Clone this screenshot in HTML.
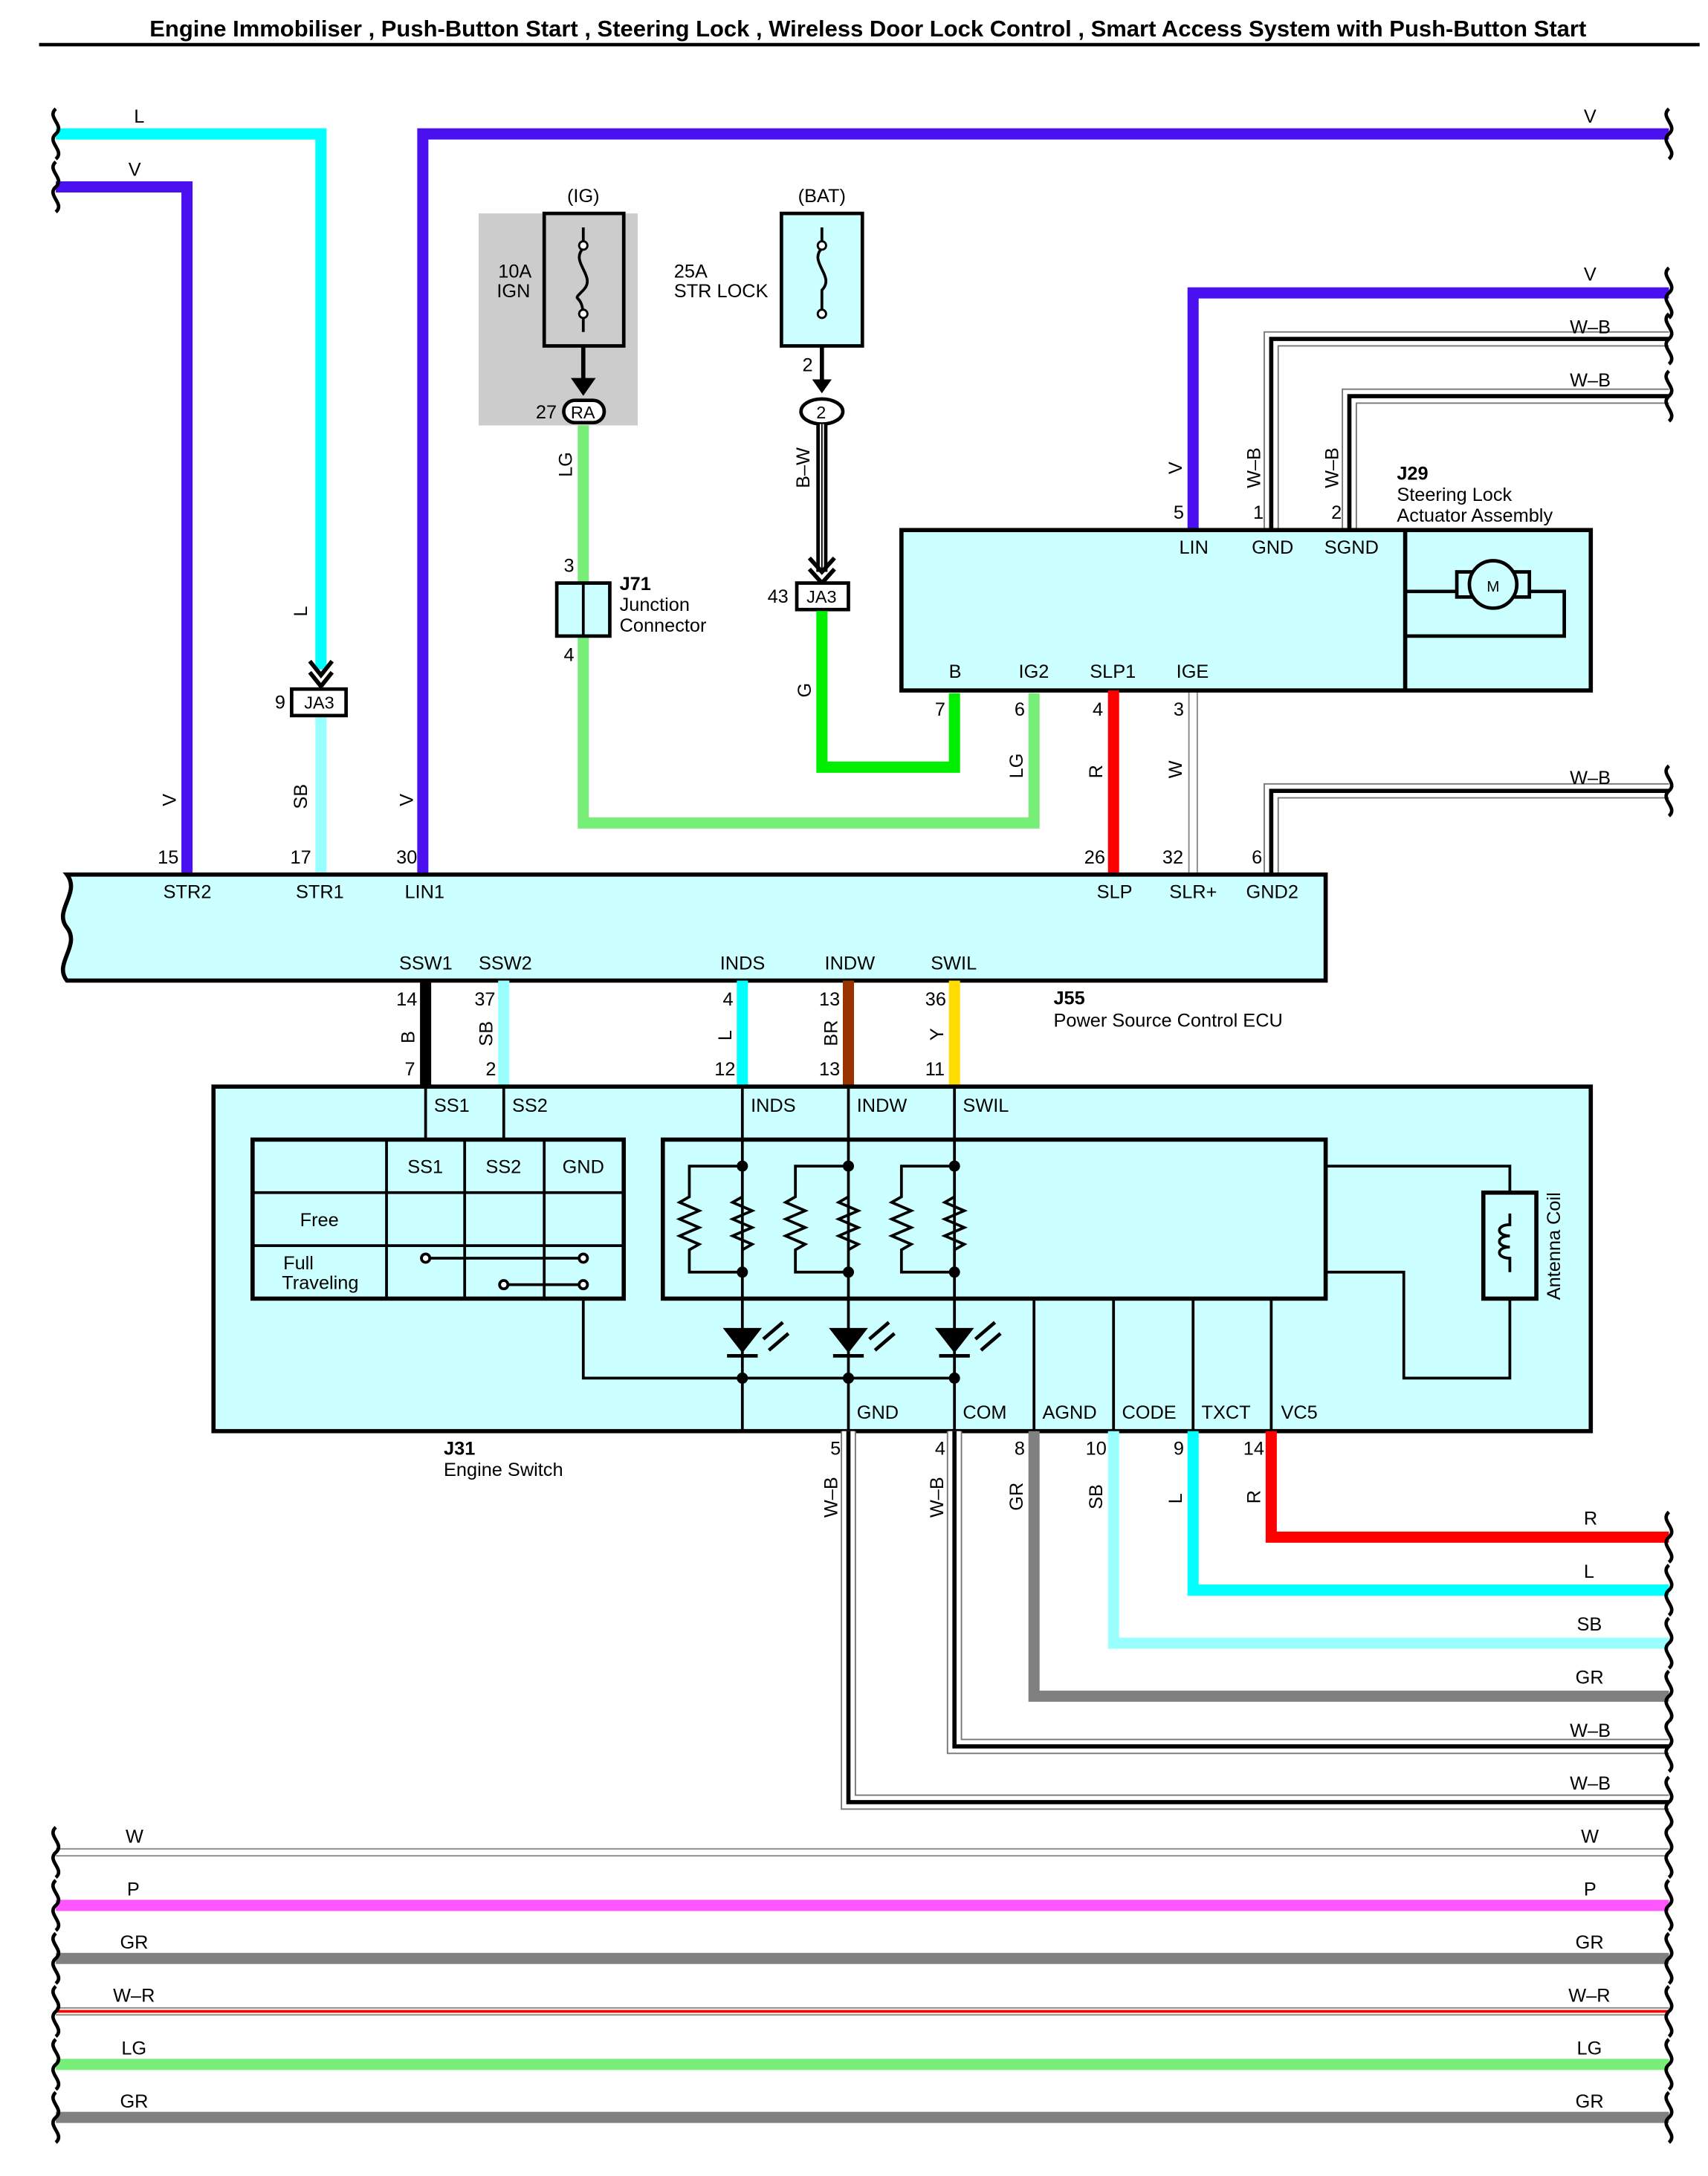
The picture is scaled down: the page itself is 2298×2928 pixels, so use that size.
<!DOCTYPE html>
<html><head><meta charset="utf-8"><style>
html,body{margin:0;padding:0;background:#fff}
svg{display:block}
text{font-family:"Liberation Sans",Arial,sans-serif;font-size:13.5px;fill:#000}
</style></head><body>
<svg width="2298" height="2928" viewBox="0 0 1224 1560" preserveAspectRatio="none" xmlns="http://www.w3.org/2000/svg">
<defs>
<path id="sq" d="M0 -18 c-7 6 7 12 0 18 c-7 6 7 12 0 18" fill="none" stroke="#000" stroke-width="2.5"/>
</defs>
<text x="622" y="26" text-anchor="middle" style="font-weight:bold;font-size:16.5px">Engine Immobiliser , Push-Button Start , Steering Lock , Wireless Door Lock Control , Smart Access System with Push-Button Start</text>
<line x1="28" y1="32" x2="1218" y2="32" stroke="#000" stroke-width="2.5"/>

<!-- gray IG area -->
<rect x="343" y="153" width="114" height="152" fill="#cccccc"/>

<!-- left wires -->
<polyline points="40,96 230,96 230,480" fill="none" stroke="#00ffff" stroke-width="8"/>
<polyline points="40,134 134,134 134,627" fill="none" stroke="#4a10f0" stroke-width="8"/>
<polyline points="303,627 303,96 1196,96" fill="none" stroke="#4a10f0" stroke-width="8"/>
<line x1="230" y1="513" x2="230" y2="627" stroke="#99ffff" stroke-width="8"/>
<text x="96" y="88">L</text><text x="92" y="126">V</text><text x="1135" y="88">V</text>
<text x="220" y="442" transform="rotate(-90 220 442)">L</text>
<text x="126" y="578" transform="rotate(-90 126 578)">V</text>
<text x="220" y="580" transform="rotate(-90 220 580)">SB</text>
<text x="296" y="578" transform="rotate(-90 296 578)">V</text>
<!-- JA3 left -->
<path d="M222 474 l8 10 l8 -10 M222 482 l8 10 l8 -10" fill="none" stroke="#000" stroke-width="3"/>
<rect x="209" y="494" width="39" height="19" fill="#fff" stroke="#000" stroke-width="2.5"/>
<text x="218" y="508" style="font-size:12.5px">JA3</text><text x="197" y="508">9</text>

<!-- IG fuse -->
<rect x="390" y="153" width="57" height="95" fill="#cccccc" stroke="#000" stroke-width="2.5"/>
<path d="M418 163 v15 c-10 10 10 20 0 30 c-10 10 0 0 0 20 v10" fill="none" stroke="#000" stroke-width="2"/>
<circle cx="418" cy="176" r="3" fill="#fff" stroke="#000" stroke-width="1.5"/><circle cx="418" cy="225" r="3" fill="#fff" stroke="#000" stroke-width="1.5"/>
<text x="418" y="145" text-anchor="middle">(IG)</text>
<text x="357" y="199">10A</text><text x="356" y="213">IGN</text>
<line x1="418" y1="248" x2="418" y2="278" stroke="#000" stroke-width="3"/>
<path d="M411 272 l7 10 l7 -10 z" fill="#000" stroke="#000" stroke-width="2"/>
<rect x="404" y="287" width="29" height="16" rx="8" fill="#fff" stroke="#000" stroke-width="2.5"/>
<text x="409" y="300" style="font-size:12.5px">RA</text><text x="384" y="300">27</text>
<!-- LG wire -->
<polyline points="418,305 418,418" fill="none" stroke="#77ee77" stroke-width="8"/>
<polyline points="418,456 418,590 741,590 741,497" fill="none" stroke="#77ee77" stroke-width="8"/>
<text x="410" y="342" transform="rotate(-90 410 342)">LG</text>
<rect x="399" y="418" width="38" height="38" fill="#ccffff" stroke="#000" stroke-width="2.5"/>
<line x1="418" y1="418" x2="418" y2="456" stroke="#000" stroke-width="2"/>
<text x="404" y="410">3</text><text x="404" y="474">4</text>
<text x="444" y="423" style="font-weight:bold">J71</text><text x="444" y="438">Junction</text><text x="444" y="453">Connector</text>
<text x="733" y="558" transform="rotate(-90 733 558)">LG</text>

<!-- BAT fuse -->
<rect x="560" y="153" width="58" height="95" fill="#ccffff" stroke="#000" stroke-width="2.5"/>
<path d="M589 163 v15 c-10 10 10 20 0 30 v20" fill="none" stroke="#000" stroke-width="2"/>
<circle cx="589" cy="176" r="3" fill="#fff" stroke="#000" stroke-width="1.5"/><circle cx="589" cy="225" r="3" fill="#fff" stroke="#000" stroke-width="1.5"/>
<text x="589" y="145" text-anchor="middle">(BAT)</text>
<text x="483" y="199">25A</text><text x="483" y="213">STR LOCK</text>
<line x1="589" y1="248" x2="589" y2="280" stroke="#000" stroke-width="3"/>
<path d="M582 272 l7 10 l7 -10 z" fill="#000"/>
<text x="575" y="266">2</text>
<ellipse cx="589" cy="295" rx="15" ry="9" fill="#fff" stroke="#000" stroke-width="2.5"/>
<text x="585" y="300" style="font-size:12.5px">2</text>
<line x1="589" y1="304" x2="589" y2="410" stroke="#000" stroke-width="8"/>
<line x1="589" y1="304" x2="589" y2="410" stroke="#fff" stroke-width="3"/>
<line x1="589" y1="304" x2="589" y2="410" stroke="#000" stroke-width="1"/>
<path d="M580 400 l9 10 l9 -10 M580 408 l9 10 l9 -10" fill="none" stroke="#000" stroke-width="3"/>
<text x="580" y="350" transform="rotate(-90 580 350)">B–W</text>
<rect x="571" y="418" width="37" height="19" fill="#fff" stroke="#000" stroke-width="2.5"/>
<text x="578" y="432" style="font-size:12.5px">JA3</text><text x="550" y="432">43</text>
<polyline points="589,438 589,550 684,550 684,497" fill="none" stroke="#00ee00" stroke-width="8"/>
<text x="581" y="500" transform="rotate(-90 581 500)">G</text>

<!-- J29 upper wires -->
<polyline points="855,380 855,210 1196,210" fill="none" stroke="#4a10f0" stroke-width="8"/>
<g fill="none">
<polyline points="911,380 911,243 1196,243" stroke="#777" stroke-width="11"/>
<polyline points="911,380 911,243 1196,243" stroke="#fff" stroke-width="9"/>
<polyline points="911,380 911,243 1196,243" stroke="#000" stroke-width="3"/>
<polyline points="967,380 967,284 1196,284" stroke="#777" stroke-width="11"/>
<polyline points="967,380 967,284 1196,284" stroke="#fff" stroke-width="9"/>
<polyline points="967,380 967,284 1196,284" stroke="#000" stroke-width="3"/>
<polyline points="911,627 911,567 1196,567" stroke="#777" stroke-width="11"/>
<polyline points="911,627 911,567 1196,567" stroke="#fff" stroke-width="9"/>
<polyline points="911,627 911,567 1196,567" stroke="#000" stroke-width="3"/>
<line x1="855" y1="495" x2="855" y2="627" stroke="#888" stroke-width="7"/>
<line x1="855" y1="495" x2="855" y2="627" stroke="#fff" stroke-width="5"/>
</g>
<text x="1135" y="201">V</text><text x="1125" y="239">W–B</text><text x="1125" y="277">W–B</text><text x="1125" y="562">W–B</text>
<text x="847" y="340" transform="rotate(-90 847 340)">V</text>
<text x="903" y="350" transform="rotate(-90 903 350)">W–B</text>
<text x="959" y="350" transform="rotate(-90 959 350)">W–B</text>
<text x="841" y="372">5</text><text x="898" y="372">1</text><text x="954" y="372">2</text>
<text x="1001" y="344" style="font-weight:bold">J29</text><text x="1001" y="359">Steering Lock</text><text x="1001" y="374">Actuator Assembly</text>
<!-- J29 box -->
<rect x="646" y="380" width="494" height="115" fill="#ccffff" stroke="#000" stroke-width="3"/>
<line x1="1007" y1="380" x2="1007" y2="495" stroke="#000" stroke-width="3"/>
<polyline points="1007,424 1044,424 M1096,424" fill="none" stroke="#000" stroke-width="2"/>
<path d="M1007 424 h38 M1096 424 h25 v32 h-114" fill="none" stroke="#000" stroke-width="2.5"/>
<rect x="1044" y="410" width="52" height="18" fill="#ccffff" stroke="#000" stroke-width="2.5"/>
<circle cx="1070" cy="419" r="17" fill="#ccffff" stroke="#000" stroke-width="2.5"/>
<text x="1070" y="424" text-anchor="middle" style="font-size:11px">M</text>
<text x="845" y="397">LIN</text><text x="897" y="397">GND</text><text x="949" y="397">SGND</text>
<text x="680" y="486">B</text><text x="730" y="486">IG2</text><text x="781" y="486">SLP1</text><text x="843" y="486">IGE</text>
<line x1="798" y1="495" x2="798" y2="627" stroke="#ff0000" stroke-width="8"/>
<text x="670" y="513">7</text><text x="727" y="513">6</text><text x="783" y="513">4</text><text x="841" y="513">3</text>
<text x="790" y="558" transform="rotate(-90 790 558)">R</text>
<text x="847" y="558" transform="rotate(-90 847 558)">W</text>
<text x="113" y="619">15</text><text x="208" y="619">17</text><text x="284" y="619">30</text>
<text x="777" y="619">26</text><text x="833" y="619">32</text><text x="897" y="619">6</text>

<!-- J55 -->
<path d="M48 627 H950 V703 H48 c-10 -12 10 -25 0 -38 c-10 -12 10 -25 0 -38 z" fill="#ccffff" stroke="#000" stroke-width="3"/>
<text x="117" y="644">STR2</text><text x="212" y="644">STR1</text><text x="290" y="644">LIN1</text>
<text x="786" y="644">SLP</text><text x="838" y="644">SLR+</text><text x="893" y="644">GND2</text>
<text x="286" y="695">SSW1</text><text x="343" y="695">SSW2</text><text x="516" y="695">INDS</text><text x="591" y="695">INDW</text><text x="667" y="695">SWIL</text>
<text x="755" y="720" style="font-weight:bold">J55</text><text x="755" y="736">Power Source Control ECU</text>

<!-- connecting wires J55-J31 -->
<line x1="305" y1="703" x2="305" y2="779" stroke="#000" stroke-width="8"/>
<line x1="361" y1="703" x2="361" y2="779" stroke="#99ffff" stroke-width="8"/>
<line x1="532" y1="703" x2="532" y2="779" stroke="#00ffff" stroke-width="8"/>
<line x1="608" y1="703" x2="608" y2="779" stroke="#993300" stroke-width="8"/>
<line x1="684" y1="703" x2="684" y2="779" stroke="#ffdd00" stroke-width="8"/>
<text x="284" y="721">14</text><text x="340" y="721">37</text><text x="518" y="721">4</text><text x="587" y="721">13</text><text x="663" y="721">36</text>
<text x="290" y="771">7</text><text x="348" y="771">2</text><text x="512" y="771">12</text><text x="587" y="771">13</text><text x="663" y="771">11</text>
<text x="297" y="748" transform="rotate(-90 297 748)">B</text>
<text x="353" y="750" transform="rotate(-90 353 750)">SB</text>
<text x="524" y="746" transform="rotate(-90 524 746)">L</text>
<text x="600" y="750" transform="rotate(-90 600 750)">BR</text>
<text x="676" y="746" transform="rotate(-90 676 746)">Y</text>

<!-- J31 -->
<rect x="153" y="779" width="987" height="247" fill="#ccffff" stroke="#000" stroke-width="3"/>
<g stroke="#000" stroke-width="2" fill="none">
<line x1="305" y1="779" x2="305" y2="817"/><line x1="361" y1="779" x2="361" y2="817"/>
<line x1="532" y1="779" x2="532" y2="1026"/><line x1="608" y1="779" x2="608" y2="1026"/><line x1="684" y1="779" x2="684" y2="1026"/>
<line x1="741" y1="931" x2="741" y2="1026"/><line x1="798" y1="931" x2="798" y2="1026"/><line x1="855" y1="931" x2="855" y2="1026"/><line x1="911" y1="931" x2="911" y2="1026"/>
<polyline points="418,931 418,988 684,988"/>
<polyline points="950,836 1082,836 1082,855"/><polyline points="950,912 1006,912 1006,988 1082,988 1082,931"/>
</g>
<text x="311" y="797">SS1</text><text x="367" y="797">SS2</text><text x="538" y="797">INDS</text><text x="614" y="797">INDW</text><text x="690" y="797">SWIL</text>
<!-- switch table -->
<rect x="181" y="817" width="266" height="114" fill="none" stroke="#000" stroke-width="3"/>
<g stroke="#000" stroke-width="2"><line x1="277" y1="817" x2="277" y2="931"/><line x1="333" y1="817" x2="333" y2="931"/><line x1="390" y1="817" x2="390" y2="931"/>
<line x1="181" y1="855" x2="447" y2="855"/><line x1="181" y1="893" x2="447" y2="893"/>
<line x1="305" y1="902" x2="418" y2="902"/><line x1="361" y1="921" x2="418" y2="921"/></g>
<g fill="#fff" stroke="#000" stroke-width="2"><circle cx="305" cy="902" r="3"/><circle cx="418" cy="902" r="3"/><circle cx="361" cy="921" r="3"/><circle cx="418" cy="921" r="3"/></g>
<text x="292" y="841">SS1</text><text x="348" y="841">SS2</text><text x="403" y="841">GND</text>
<text x="215" y="879">Free</text><text x="203" y="910">Full</text><text x="202" y="924">Traveling</text>
<!-- inner box -->
<rect x="475" y="817" width="475" height="114" fill="none" stroke="#000" stroke-width="3"/>
<g stroke="#000" stroke-width="2" fill="none">
<path d="M532 836 h-38 v22 l-7 4 l14 6 l-14 6 l14 6 l-14 6 l14 6 l-7 4 v16 h38"/>
<path d="M532 858 l-7 4 l14 6 l-14 6 l14 6 l-14 6 l14 6 l-7 4"/>
<path d="M608 836 h-38 v22 l-7 4 l14 6 l-14 6 l14 6 l-14 6 l14 6 l-7 4 v16 h38"/>
<path d="M608 858 l-7 4 l14 6 l-14 6 l14 6 l-14 6 l14 6 l-7 4"/>
<path d="M684 836 h-38 v22 l-7 4 l14 6 l-14 6 l14 6 l-14 6 l14 6 l-7 4 v16 h38"/>
<path d="M684 858 l-7 4 l14 6 l-14 6 l14 6 l-14 6 l14 6 l-7 4"/>
</g>
<g fill="#000">
<circle cx="532" cy="836" r="4"/><circle cx="532" cy="912" r="4"/><circle cx="608" cy="836" r="4"/><circle cx="608" cy="912" r="4"/><circle cx="684" cy="836" r="4"/><circle cx="684" cy="912" r="4"/>
<circle cx="532" cy="988" r="4"/><circle cx="608" cy="988" r="4"/><circle cx="684" cy="988" r="4"/>
<path d="M518 952 h28 l-14 18 z M594 952 h28 l-14 18 z M670 952 h28 l-14 18 z"/>
</g>
<g stroke="#000" stroke-width="2.5" fill="none">
<path d="M521 972 h22 M597 972 h22 M673 972 h22"/>
<path d="M547 960 l14 -12 M551 968 l14 -12 M623 960 l14 -12 M627 968 l14 -12 M699 960 l14 -12 M703 968 l14 -12"/>
</g>
<!-- antenna coil -->
<rect x="1063" y="855" width="38" height="76" fill="#ccffff" stroke="#000" stroke-width="3"/>
<path d="M1082 870 v8 c-10 0 -10 8 0 8 c-10 0 -10 8 0 8 c-10 0 -10 8 0 8 v10" fill="none" stroke="#000" stroke-width="2"/>
<text x="1118" y="932" transform="rotate(-90 1118 932)">Antenna Coil</text>
<text x="614" y="1017">GND</text><text x="690" y="1017">COM</text><text x="747" y="1017">AGND</text><text x="804" y="1017">CODE</text><text x="861" y="1017">TXCT</text><text x="918" y="1017">VC5</text>
<text x="318" y="1043" style="font-weight:bold">J31</text><text x="318" y="1058">Engine Switch</text>

<!-- bottom wires from J31 -->
<polyline points="911,1026 911,1102 1196,1102" fill="none" stroke="#ff0000" stroke-width="8"/>
<polyline points="855,1026 855,1140 1196,1140" fill="none" stroke="#00ffff" stroke-width="8"/>
<polyline points="798,1026 798,1178 1196,1178" fill="none" stroke="#99ffff" stroke-width="8"/>
<polyline points="741,1026 741,1216 1196,1216" fill="none" stroke="#808080" stroke-width="8"/>
<g fill="none">
<polyline points="684,1026 684,1252 1196,1252" stroke="#777" stroke-width="11"/>
<polyline points="684,1026 684,1252 1196,1252" stroke="#fff" stroke-width="9"/>
<polyline points="684,1026 684,1252 1196,1252" stroke="#000" stroke-width="3"/>
<polyline points="608,1026 608,1292 1196,1292" stroke="#777" stroke-width="11"/>
<polyline points="608,1026 608,1292 1196,1292" stroke="#fff" stroke-width="9"/>
<polyline points="608,1026 608,1292 1196,1292" stroke="#000" stroke-width="3"/>
</g>
<text x="595" y="1043">5</text><text x="670" y="1043">4</text><text x="727" y="1043">8</text><text x="778" y="1043">10</text><text x="841" y="1043">9</text><text x="891" y="1043">14</text>
<text x="600" y="1088" transform="rotate(-90 600 1088)">W–B</text>
<text x="676" y="1088" transform="rotate(-90 676 1088)">W–B</text>
<text x="733" y="1083" transform="rotate(-90 733 1083)">GR</text>
<text x="790" y="1082" transform="rotate(-90 790 1082)">SB</text>
<text x="847" y="1078" transform="rotate(-90 847 1078)">L</text>
<text x="903" y="1078" transform="rotate(-90 903 1078)">R</text>
<text x="1135" y="1093">R</text><text x="1135" y="1131">L</text><text x="1130" y="1169">SB</text><text x="1129" y="1207">GR</text><text x="1125" y="1245">W–B</text><text x="1125" y="1283">W–B</text>

<!-- bottom buses -->
<line x1="40" y1="1328" x2="1196" y2="1328" stroke="#888" stroke-width="6"/>
<line x1="40" y1="1328" x2="1196" y2="1328" stroke="#fff" stroke-width="4"/>
<line x1="40" y1="1366" x2="1196" y2="1366" stroke="#ff55ff" stroke-width="8"/>
<line x1="40" y1="1404" x2="1196" y2="1404" stroke="#808080" stroke-width="8"/>
<line x1="40" y1="1442" x2="1196" y2="1442" stroke="#888" stroke-width="6"/>
<line x1="40" y1="1442" x2="1196" y2="1442" stroke="#fff" stroke-width="4"/>
<line x1="40" y1="1442" x2="1196" y2="1442" stroke="#ff0000" stroke-width="2"/>
<line x1="40" y1="1480" x2="1196" y2="1480" stroke="#77ee77" stroke-width="8"/>
<line x1="40" y1="1518" x2="1196" y2="1518" stroke="#808080" stroke-width="8"/>
<text x="90" y="1321">W</text><text x="1133" y="1321">W</text>
<text x="91" y="1359">P</text><text x="1135" y="1359">P</text>
<text x="86" y="1397">GR</text><text x="1129" y="1397">GR</text>
<text x="81" y="1435">W–R</text><text x="1124" y="1435">W–R</text>
<text x="87" y="1473">LG</text><text x="1130" y="1473">LG</text>
<text x="86" y="1511">GR</text><text x="1129" y="1511">GR</text>

<!-- squiggles -->
<g>
<use href="#sq" x="40" y="96"/><use href="#sq" x="40" y="134"/>
<use href="#sq" x="1196" y="96"/><use href="#sq" x="1196" y="210"/><use href="#sq" x="1196" y="243"/><use href="#sq" x="1196" y="284"/><use href="#sq" x="1196" y="567"/>
<use href="#sq" x="1196" y="1102"/><use href="#sq" x="1196" y="1140"/><use href="#sq" x="1196" y="1178"/><use href="#sq" x="1196" y="1216"/><use href="#sq" x="1196" y="1252"/><use href="#sq" x="1196" y="1292"/>
<use href="#sq" x="40" y="1328"/><use href="#sq" x="40" y="1366"/><use href="#sq" x="40" y="1404"/><use href="#sq" x="40" y="1442"/><use href="#sq" x="40" y="1480"/><use href="#sq" x="40" y="1518"/>
<use href="#sq" x="1196" y="1328"/><use href="#sq" x="1196" y="1366"/><use href="#sq" x="1196" y="1404"/><use href="#sq" x="1196" y="1442"/><use href="#sq" x="1196" y="1480"/><use href="#sq" x="1196" y="1518"/>
</g>
</svg>
</body></html>
